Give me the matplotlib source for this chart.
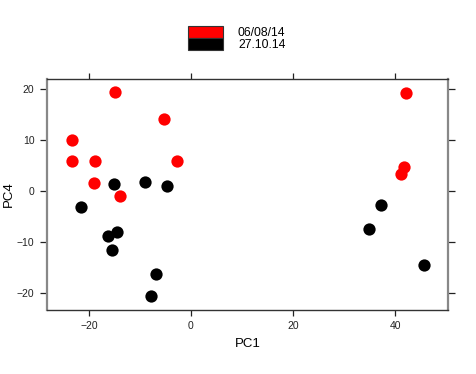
import numpy as np
import matplotlib
matplotlib.use("Agg")
from matplotlib import pyplot as plt
from matplotlib.patches import Rectangle

plt.rcParams["font.family"] = ["Liberation Sans", "DejaVu Sans"]

# PCA scores
pc1_a = [-23.3, -23.3, -18.8, -19.0, -14.8, -5.2, -2.7, -13.8, 42.2, 41.8, 41.1]
pc4_a = [10.1, 5.9, 5.9, 1.6, 19.4, 14.2, 5.9, -1.0, 19.2, 4.7, 3.4]
pc1_b = [-15.1, -8.9, -4.6, -21.5, -16.3, -14.5, -15.4, -6.9, -7.9, 37.2, 34.8, 45.6]
pc4_b = [1.4, 1.7, 1.1, -3.1, -8.7, -8.0, -11.5, -16.3, -20.5, -2.8, -7.5, -14.5]
groups = ["06/08/14", "27.10.14"]
colors = ["#ff0000", "#000000"]
xticks = [-20, 0, 20, 40]
yticks = [-20, -10, 0, 10, 20]


def main() -> None:
    fig = plt.figure(figsize=(4.77, 3.74), dpi=100)
    ax = fig.add_axes([0.0985, 0.171, 0.841, 0.618])

    ax.scatter(pc1_a, pc4_a, s=78, color=colors[0], linewidths=0, zorder=3)
    ax.scatter(pc1_b, pc4_b, s=78, color=colors[1], linewidths=0, zorder=3)

    ax.set_xlim(-28.2, 50.4)
    ax.set_ylim(-23.3, 22.0)
    ax.set_xticks(xticks)
    ax.set_yticks(yticks)
    ax.tick_params(axis="x", direction="out", length=4, width=0.9,
                   labelsize=7.5, colors="#222222", pad=4,
                   top=True, bottom=True)
    ax.tick_params(axis="y", direction="out", length=5, width=0.9,
                   labelsize=7.5, colors="#222222", pad=4,
                   left=True, right=True)
    for side in ["top", "bottom"]:
        ax.spines[side].set_color("#333333")
        ax.spines[side].set_linewidth(1.0)
    for side in ["left", "right"]:
        ax.spines[side].set_color("#888888")
        ax.spines[side].set_linewidth(1.6)

    ax.set_xlabel("PC1", fontsize=9.5, labelpad=5)
    ax.set_ylabel("PC4", fontsize=9.5)
    ax.yaxis.set_label_coords(-0.08, 0.5)

    # legend drawn on top, lattice style
    fig.patches.append(Rectangle((188 / 477, 1 - 38 / 374), 35 / 477, 12 / 374,
                                 transform=fig.transFigure, facecolor=colors[0],
                                 edgecolor="#333333", linewidth=0.8))
    fig.patches.append(Rectangle((188 / 477, 1 - 50 / 374), 35 / 477, 12 / 374,
                                 transform=fig.transFigure, facecolor=colors[1],
                                 edgecolor="#333333", linewidth=0.8))
    fig.text(238 / 477, 1 - 33 / 374, groups[0], fontsize=8.7, va="center", ha="left")
    fig.text(238 / 477, 1 - 45 / 374, groups[1], fontsize=8.7, va="center", ha="left")

    fig.savefig("out.png", dpi=100)
    plt.close(fig)


if __name__ == "__main__":
    main()
